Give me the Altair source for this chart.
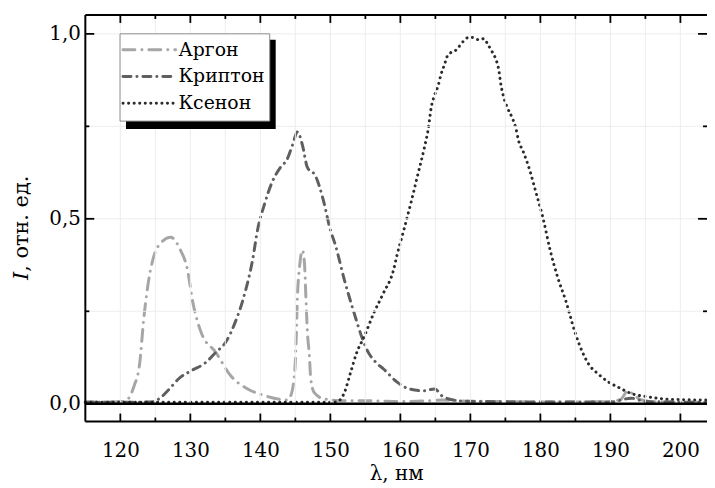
import altair as alt
import pandas as pd

# ---------------- data ----------------
series_names = ["Аргон", "Криптон", "Ксенон"]

ar_x = [115, 118, 120.5, 121.2, 122, 122.7, 123.4, 124.1, 124.8, 125.8, 127.2, 128.6, 129.5,
        130.4, 131.6, 133.6, 135.8, 138.2, 140.6, 142.5, 143.8, 144.3, 144.9, 145.1, 145.3,
        145.6, 146.0, 146.3, 146.5, 146.7, 147.0, 147.2, 147.7, 149.1, 152, 156, 160, 164,
        166, 170, 175, 180, 185, 190, 191.5, 192.5, 193.3, 194.5, 197, 203.8]
ar_y = [0.005, 0.005, 0.006, 0.015, 0.05, 0.10, 0.24, 0.34, 0.40, 0.435, 0.45, 0.415, 0.37,
        0.27, 0.19, 0.14, 0.075, 0.04, 0.022, 0.013, 0.01, 0.02, 0.085, 0.165, 0.29,
        0.37, 0.415, 0.38, 0.29, 0.20, 0.13, 0.067, 0.03, 0.013, 0.008, 0.008, 0.006, 0.008,
        0.01, 0.007, 0.006, 0.005, 0.005, 0.006, 0.012, 0.035, 0.025, 0.01, 0.005, 0.004]

kr_x = [115, 120, 124.5, 125.5, 127, 128.3, 130.2, 132.1, 133.7, 135, 136.4, 137.8, 138.9,
        139.6, 140.6, 141.7, 142.9, 143.8, 144.6, 145.3, 146, 146.7, 147.9, 149, 150, 150.7,
        152, 153.4, 154.5, 155.2, 156.6, 157.6, 159.5, 161.3, 163.3, 164.9, 166.1, 168.4,
        172, 180, 190, 193, 195, 203.8]
kr_y = [0.004, 0.004, 0.005, 0.013, 0.04, 0.067, 0.09, 0.11, 0.14, 0.165, 0.22, 0.30, 0.39,
        0.47, 0.54, 0.60, 0.64, 0.66, 0.70, 0.735, 0.70, 0.64, 0.615, 0.55, 0.47, 0.43,
        0.335, 0.245, 0.18, 0.147, 0.11, 0.094, 0.059, 0.04, 0.035, 0.04, 0.019, 0.008,
        0.006, 0.005, 0.005, 0.015, 0.006, 0.004]

xe_x = [115, 130, 145, 150, 151, 152, 152.9, 153.8, 154.8, 156.2, 157.6, 159.0, 159.5, 160.5,
        161.6, 162.5, 163.4, 164, 164.4, 164.9, 165.4, 165.8, 166.3, 166.8, 168, 169, 169.7,
        170.4, 171.2, 171.9, 172.6, 173.1, 173.6, 174.1, 174.3, 174.8, 175.3, 176, 176.5,
        176.9, 177.5, 178.5, 179.3, 180.4, 181.4, 182.5, 183.6, 185, 186, 186.9, 188.3,
        189.7, 191.1, 193.1, 195.3, 197.7, 200.6, 203.8]
xe_y = [0.004, 0.004, 0.004, 0.004, 0.006, 0.03, 0.085, 0.14, 0.18, 0.245, 0.30, 0.36, 0.40, 0.47,
        0.55, 0.62, 0.69, 0.745, 0.80, 0.835, 0.86, 0.89, 0.917, 0.943, 0.957, 0.98, 0.99,
        0.99, 0.984, 0.987, 0.968, 0.952, 0.933, 0.898, 0.87, 0.826, 0.80, 0.772, 0.745,
        0.71, 0.684, 0.63, 0.576, 0.50, 0.415, 0.34, 0.28, 0.19, 0.14, 0.107, 0.08,
        0.059, 0.045, 0.027, 0.019, 0.013, 0.011, 0.01]

x_major = [120, 130, 140, 150, 160, 170, 180, 190, 200]
x_minor = [125, 135, 145, 155, 165, 175, 185, 195]
y_major = [0.0, 0.5, 1.0]
y_minor = [0.25, 0.75]

# ---------------- styles ----------------
series_colors = ["#a6a6a6", "#5f5f5f", "#2b2b2b"]
series_dash = [[12, 7, 0.1, 7], [8, 6, 0.1, 6], [0.1, 5.5]]
FONT = "DejaVu Serif"
W, H = 627, 410

rows = []
for name, xs_, ys_ in zip(series_names, [ar_x, kr_x, xe_x], [ar_y, kr_y, xe_y]):
    for i, (a, b) in enumerate(zip(xs_, ys_)):
        rows.append({"lam": a, "I": b, "s": name, "o": i})
df = pd.DataFrame(rows)

xsc = alt.Scale(domain=[115, 203.8], nice=False, zero=False)
ysc = alt.Scale(domain=[-0.048, 1.051], nice=False, zero=False)
xax = alt.Axis(values=x_major, title="λ, нм", ticks=False, domain=False, grid=False,
               labelPadding=19, titlePadding=3, labelFlush=False)
yax = alt.Axis(values=y_major, title=None, ticks=False, domain=False, grid=False,
               labelPadding=5, labelExpr="replace(format(datum.value, '.1f'), '.', ',')")
one = pd.DataFrame({"a": [0]})


def X(field):
    return alt.X(field, scale=xsc, axis=xax)


def Y(field):
    return alt.Y(field, scale=ysc, axis=yax)


curves = alt.Chart(df).mark_line(strokeWidth=3, strokeCap="round", interpolate="monotone").encode(
    x=X("lam:Q"),
    y=Y("I:Q"),
    color=alt.Color("s:N", scale=alt.Scale(domain=series_names, range=series_colors), legend=None),
    strokeDash=alt.StrokeDash("s:N", scale=alt.Scale(domain=series_names, range=series_dash), legend=None),
    order="o:Q",
)

grid_x = alt.Chart(pd.DataFrame({"t": x_major + x_minor})).mark_rule(color="#ededed", strokeWidth=1).encode(
    x=X("t:Q"), y=alt.value(0), y2=alt.value(H))
grid_y = alt.Chart(pd.DataFrame({"t": y_major + y_minor})).mark_rule(color="#ededed", strokeWidth=1).encode(
    y=Y("t:Q"), x=alt.value(0), x2=alt.value(W))

zero = alt.Chart(pd.DataFrame({"z": [0.0]})).mark_rule(color="black", strokeWidth=2.5).encode(
    y=Y("z:Q"), x=alt.value(0), x2=alt.value(W))


def xticks(vals, y0, y1):
    return alt.Chart(pd.DataFrame({"t": vals})).mark_rule(color="black", strokeWidth=1.8).encode(
        x=X("t:Q"), y=alt.value(y0), y2=alt.value(y1))


def yticks(vals, x0, x1):
    return alt.Chart(pd.DataFrame({"t": vals})).mark_rule(color="black", strokeWidth=1.8).encode(
        y=Y("t:Q"), x=alt.value(x0), x2=alt.value(x1))


ticks = [
    xticks(x_major, H, H - 8), xticks(x_minor, H, H - 4),
    xticks(x_major, 0, 8), xticks(x_minor, 0, 4),
    yticks(y_major, 0, 9), yticks(y_minor, 0, 4),
    yticks(y_major, W, W - 9), yticks(y_minor, W, W - 4),
]

frame = [
    alt.Chart(one).mark_rule(color="black", strokeWidth=2).encode(
        x=alt.value(0), y=alt.value(0), y2=alt.value(H)),
    alt.Chart(one).mark_rule(color="black", strokeWidth=2).encode(
        y=alt.value(0), x=alt.value(0), x2=alt.value(W)),
    alt.Chart(one).mark_rule(color="black", strokeWidth=2).encode(
        y=alt.value(H), x=alt.value(0), x2=alt.value(W)),
]

# y-axis title with italic I
ytitle = [
    alt.Chart(one).mark_text(angle=270, align="right", baseline="alphabetic", font=FONT,
                             fontSize=21, fontStyle="italic", color="black").encode(
        x=alt.value(-58), y=alt.value(259), text=alt.value("I")),
    alt.Chart(one).mark_text(angle=270, align="left", baseline="alphabetic", font=FONT,
                             fontSize=21, color="black").encode(
        x=alt.value(-58), y=alt.value(259), text=alt.value(", отн. ед.")),
]

# legend
legend = [
    alt.Chart(one).mark_rect(color="black").encode(
        x=alt.value(41), x2=alt.value(192), y=alt.value(25), y2=alt.value(115)),
    alt.Chart(one).mark_rect(fill="white", stroke="#8c8c8c", strokeWidth=1).encode(
        x=alt.value(35), x2=alt.value(186), y=alt.value(19), y2=alt.value(107)),
]
for i, name in enumerate(series_names):
    yy = 35 + 27 * i
    legend.append(alt.Chart(one).mark_rule(color=series_colors[i], strokeDash=series_dash[i],
                                           strokeWidth=3, strokeCap="round").encode(
        x=alt.value(38), x2=alt.value(91), y=alt.value(yy)))
    legend.append(alt.Chart(one).mark_text(align="left", baseline="middle", font=FONT,
                                           fontSize=19, color="black").encode(
        x=alt.value(94), y=alt.value(yy), text=alt.value(name)))

chart = alt.layer(curves, grid_x, grid_y, zero, *ticks, *frame, *ytitle, *legend).properties(
    width=W, height=H,
    padding={"left": 78, "top": 5, "right": 0, "bottom": 66},
    autosize=alt.AutoSizeParams(type="none"),
).configure_view(stroke=None).configure_axis(
    labelFont=FONT, labelFontSize=20, labelColor="black",
    titleFont=FONT, titleFontSize=20, titleFontWeight="normal", titleColor="black",
)

chart.save("out.html", embed_options={"renderer": "svg", "actions": False})
